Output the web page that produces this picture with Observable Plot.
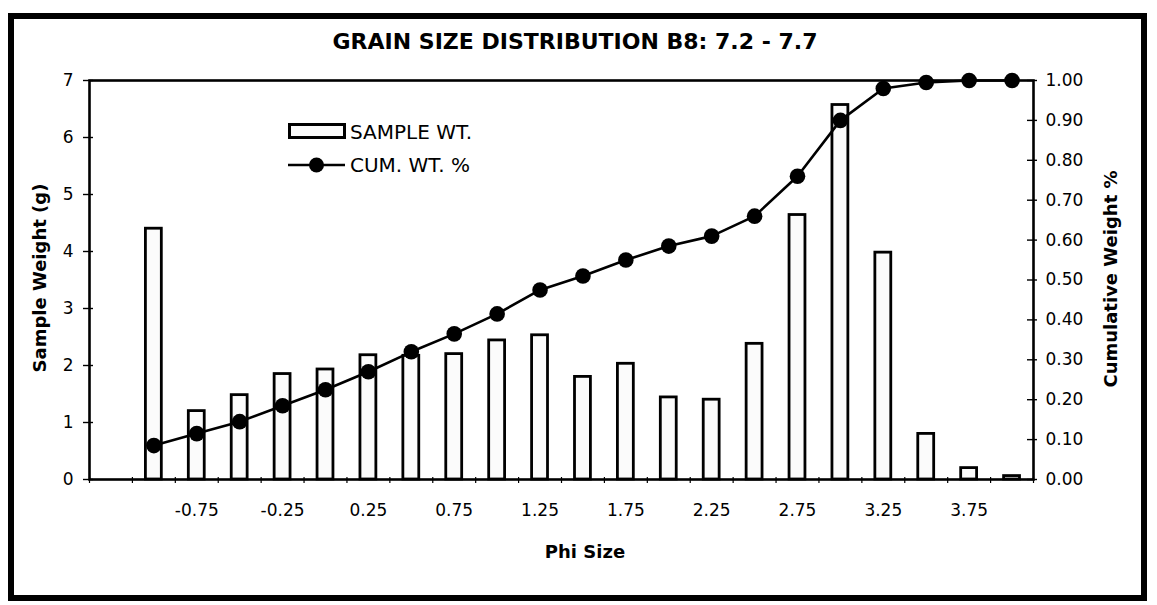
<!DOCTYPE html>
<html><head><meta charset="utf-8">
<script src="https://cdn.jsdelivr.net/npm/d3@7"></script>
<script src="https://cdn.jsdelivr.net/npm/@observablehq/plot@0.6"></script>
<style>
html,body{margin:0;padding:0;background:#fff;}
#wrap{position:relative;width:1157px;height:605px;overflow:hidden;font-family:"DejaVu Sans",sans-serif;color:#000;}
#chart{position:absolute;left:0;top:0;}
#border{position:absolute;left:8px;top:13px;width:1139px;height:588px;border:6px solid #000;box-sizing:border-box;pointer-events:none;}
.lbl{position:absolute;white-space:nowrap;line-height:1;transform:translate(-50%,-50%);}
.b{font-weight:bold;}
.rot{transform:translate(-50%,-50%) rotate(-90deg);}
.leg{position:absolute;white-space:nowrap;line-height:1;transform:translateY(-50%);font-size:20px;}
</style>
</head><body>
<div id="wrap">
  <div id="chart"></div>
  <div id="border"></div>
  <div class="lbl b" style="left:575px;top:42px;font-size:22px;">GRAIN SIZE DISTRIBUTION B8: 7.2 - 7.7</div>
  <div class="lbl b rot" style="left:40px;top:278px;font-size:18px;">Sample Weight (g)</div>
  <div class="lbl b rot" style="left:1111px;top:279px;font-size:18px;">Cumulative Weight %</div>
  <div class="lbl b" style="left:585px;top:552px;font-size:18px;">Phi Size</div>
  <svg style="position:absolute;left:280px;top:115px;" width="70" height="65">
    <rect x="9.5" y="9.5" width="55" height="13" fill="#fbfbfb" stroke="#000" stroke-width="3"></rect>
    <line x1="8" x2="65" y1="50" y2="50" stroke="#000" stroke-width="2.6"></line>
    <circle cx="36.5" cy="50" r="7.5" fill="#000"></circle>
  </svg>
  <div class="leg" style="left:350px;top:132px;">SAMPLE WT.</div>
  <div class="leg" style="left:350px;top:165px;">CUM. WT. %</div>
</div>
<script>
// Phi size classes (one bar each)
const phi = [-1.00, -0.75, -0.50, -0.25, 0.00, 0.25, 0.50, 0.75, 1.00, 1.25, 1.50,
             1.75, 2.00, 2.25, 2.50, 2.75, 3.00, 3.25, 3.50, 3.75, 4.00];
// Sample weight (g)
const sampleWt = [4.40, 1.20, 1.48, 1.85, 1.93, 2.18, 2.17, 2.20, 2.44, 2.53, 1.80,
                  2.03, 1.44, 1.40, 2.38, 4.64, 6.57, 3.98, 0.80, 0.20, 0.06];
// Cumulative weight fraction
const cumWt = [0.085, 0.115, 0.145, 0.185, 0.225, 0.27, 0.32, 0.365, 0.415, 0.475, 0.51,
               0.55, 0.585, 0.61, 0.66, 0.76, 0.90, 0.98, 0.995, 1.00, 1.00];
// Axis tick labels
const xTickLabels = ["-0.75", "-0.25", "0.25", "0.75", "1.25", "1.75", "2.25", "2.75", "3.25", "3.75"];
const yLeftTicks = [0, 1, 2, 3, 4, 5, 6, 7];
const yRightTicks = [0, 0.1, 0.2, 0.3, 0.4, 0.5, 0.6, 0.7, 0.8, 0.9, 1.0];

const LEFT_MAX = 7;           // left axis max; right axis 0..1 mapped onto it
const data = phi.map((p, i) => ({phi: p, slot: i + 1, wt: sampleWt[i], cum: cumWt[i]}));
const nSlots = phi.length + 1; // first category slot is empty

const xLabelPos = xTickLabels.map(l => phi.findIndex(p => Math.abs(p - (+l)) < 1e-9) + 1.5);
const xLabelMap = new Map(xLabelPos.map((p, i) => [p, xTickLabels[i]]));
const rightPos = yRightTicks.map(t => t * LEFT_MAX);

const chart = Plot.plot({
  width: 1157, height: 605,
  marginLeft: 89, marginRight: 124, marginTop: 80, marginBottom: 126,
  style: {fontFamily: "DejaVu Sans, sans-serif", fontSize: "17px", color: "#000", background: "transparent"},
  x: {type: "linear", domain: [0, nSlots], axis: null},
  y: {domain: [0, LEFT_MAX], axis: null},
  marks: [
    Plot.rectY(data, {x1: "slot", x2: d => d.slot + 1, y: "wt", fill: "#fbfbfb", stroke: "#000",
                      strokeWidth: 2.8, insetLeft: 13.5, insetRight: 13.5}),
    Plot.frame({stroke: "#000", strokeWidth: 2.6}),
    // left axis: crossing tick marks, then labels
    Plot.axisY({ticks: yLeftTicks, anchor: "left", tickSize: 10, dx: 4, strokeWidth: 1.4, fill: "none", label: null}),
    Plot.axisY({ticks: yLeftTicks, anchor: "left", tickSize: 0, tickPadding: 16, fontSize: 17, label: null,
                tickFormat: d => String(d)}),
    // right axis (cumulative fraction)
    Plot.axisY({ticks: rightPos, anchor: "right", tickSize: 10, dx: -7, strokeWidth: 1.4, fill: "none", label: null}),
    Plot.axisY({ticks: rightPos, anchor: "right", tickSize: 0, tickPadding: 12, fontSize: 17, label: null,
                tickFormat: d => (d / LEFT_MAX).toFixed(2)}),
    // x axis: tick marks at category boundaries, labels at every other category
    Plot.axisX({ticks: d3.range(0, nSlots + 1), anchor: "bottom", tickSize: 6, dy: -2, strokeWidth: 1.2, fill: "none", label: null}),
    Plot.axisX({ticks: xLabelPos, anchor: "bottom", tickSize: 0, tickPadding: 24, fontSize: 17, label: null,
                tickFormat: d => xLabelMap.get(d)}),
    Plot.line(data, {x: d => d.slot + 0.5, y: d => d.cum * LEFT_MAX, stroke: "#000", strokeWidth: 2.6}),
    Plot.dot(data, {x: d => d.slot + 0.5, y: d => d.cum * LEFT_MAX, r: 7.8, fill: "#000"})
  ]
});
document.getElementById("chart").appendChild(chart);
</script>
</body></html>
